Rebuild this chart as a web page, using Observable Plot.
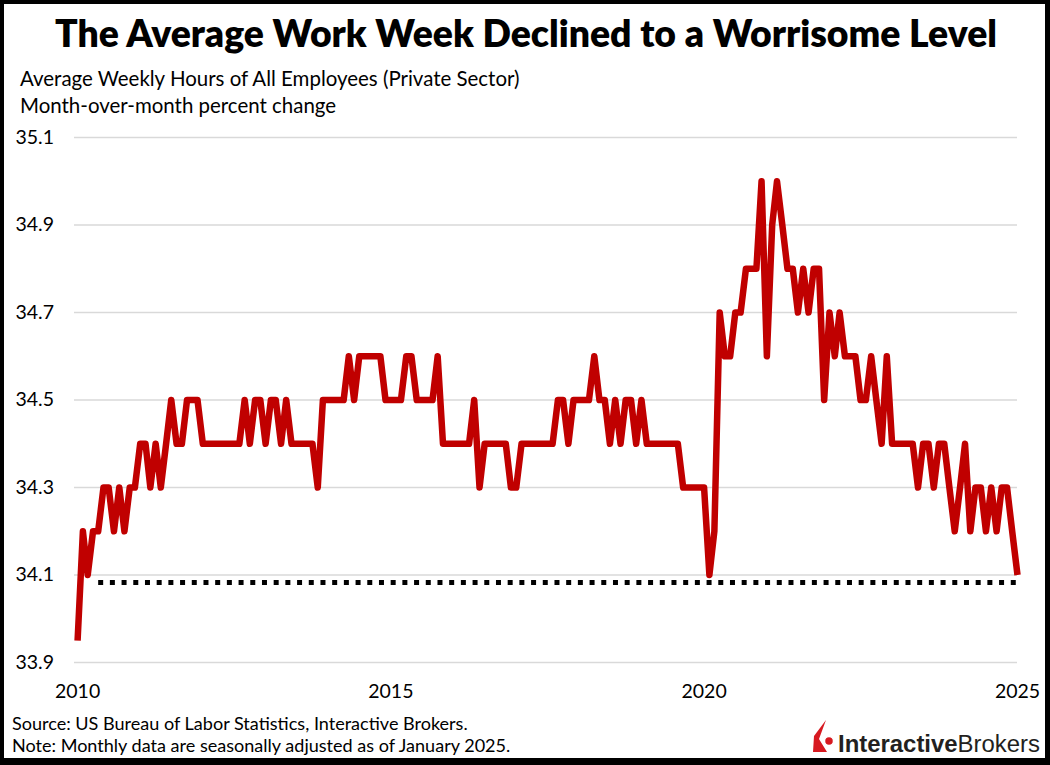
<!DOCTYPE html>
<html><head><meta charset="utf-8">
<script src="https://cdn.jsdelivr.net/npm/d3@7"></script>
<script src="https://cdn.jsdelivr.net/npm/@observablehq/plot@0.6"></script>
<style>
html,body{margin:0;padding:0;background:#fff;}
#frame{position:relative;width:1050px;height:765px;overflow:hidden;background:#fff;}
#border{position:absolute;left:0;top:0;width:1050px;height:765px;box-sizing:border-box;border:4px solid #000;border-right-width:5px;border-bottom-width:7px;pointer-events:none;z-index:5;}
#chart{position:absolute;left:0;top:120px;z-index:1;}
#overlay{position:absolute;left:0;top:0;z-index:3;pointer-events:none;}
</style></head>
<body>
<div id="frame">
  <div id="chart"></div>
  <svg id="overlay" width="1050" height="765" font-family="Lato, 'Open Sans', sans-serif">
    <text id="title" x="526" y="47" text-anchor="middle" font-weight="800" font-size="36" fill="#000">The Average Work Week Declined to a Worrisome Level</text>
    <text id="sub1" x="20" y="86" font-size="21" fill="#000">Average Weekly Hours of All Employees (Private Sector)</text>
    <text id="sub2" x="20" y="113" font-size="21" fill="#000">Month-over-month percent change</text>
    <text id="src" x="12" y="730" font-size="18" fill="#000">Source: US Bureau of Labor Statistics, Interactive Brokers.</text>
    <text id="note" x="12" y="752" font-size="18" fill="#000">Note: Monthly data are seasonally adjusted as of January 2025.</text>
    <g id="logo">
      <path d="M813,752 L814,736 L826,720 L819,739 L827,752 Z" fill="#d71920"/>
      <circle cx="829" cy="741" r="4.5" fill="#d71920" stroke="#fff" stroke-width="1.5"/>
      <text id="logoText" x="838" y="752" font-family="'Liberation Sans', Arial, sans-serif" font-size="24" fill="#231f20"><tspan font-weight="700">Interactive</tspan><tspan>Brokers</tspan></text>
    </g>
  </svg>
  <div id="border"></div>
</div>
<script>
// ---- data ----
const firstMonth = [2010, 0];           // January 2010
const hours = [
  // 2010
  33.95, 34.2, 34.1, 34.2, 34.2, 34.3, 34.3, 34.2, 34.3, 34.2, 34.3, 34.3,
  // 2011
  34.4, 34.4, 34.3, 34.4, 34.3, 34.4, 34.5, 34.4, 34.4, 34.5, 34.5, 34.5,
  // 2012
  34.4, 34.4, 34.4, 34.4, 34.4, 34.4, 34.4, 34.4, 34.5, 34.4, 34.5, 34.5,
  // 2013
  34.4, 34.5, 34.5, 34.4, 34.5, 34.4, 34.4, 34.4, 34.4, 34.4, 34.3, 34.5,
  // 2014
  34.5, 34.5, 34.5, 34.5, 34.6, 34.5, 34.6, 34.6, 34.6, 34.6, 34.6, 34.5,
  // 2015
  34.5, 34.5, 34.5, 34.6, 34.6, 34.5, 34.5, 34.5, 34.5, 34.6, 34.4, 34.4,
  // 2016
  34.4, 34.4, 34.4, 34.4, 34.5, 34.3, 34.4, 34.4, 34.4, 34.4, 34.4, 34.3,
  // 2017
  34.3, 34.4, 34.4, 34.4, 34.4, 34.4, 34.4, 34.4, 34.5, 34.5, 34.4, 34.5,
  // 2018
  34.5, 34.5, 34.5, 34.6, 34.5, 34.5, 34.4, 34.5, 34.4, 34.5, 34.5, 34.4,
  // 2019
  34.5, 34.4, 34.4, 34.4, 34.4, 34.4, 34.4, 34.4, 34.3, 34.3, 34.3, 34.3,
  // 2020
  34.3, 34.1, 34.2, 34.7, 34.6, 34.6, 34.7, 34.7, 34.8, 34.8, 34.8, 35.0,
  // 2021
  34.6, 34.9, 35.0, 34.9, 34.8, 34.8, 34.7, 34.8, 34.7, 34.8, 34.8, 34.5,
  // 2022
  34.7, 34.6, 34.7, 34.6, 34.6, 34.6, 34.5, 34.5, 34.6, 34.5, 34.4, 34.6,
  // 2023
  34.4, 34.4, 34.4, 34.4, 34.4, 34.3, 34.4, 34.4, 34.3, 34.4, 34.4, 34.3,
  // 2024
  34.2, 34.3, 34.4, 34.2, 34.3, 34.3, 34.2, 34.3, 34.2, 34.3, 34.3, 34.2,
  // 2025
  34.1
];
const yTicks = [33.9, 34.1, 34.3, 34.5, 34.7, 34.9, 35.1];
const xTickYears = [2010, 2015, 2020, 2025];
const referenceLevel = 34.083;          // dotted line value
const referenceStart = [2010, 4];       // dotted line starts May 2010

// ---- build table ----
const series = hours.map((v, i) => ({date: new Date(Date.UTC(firstMonth[0], firstMonth[1] + i, 1)), value: v}));
const xStart = new Date(Date.UTC(2009, 11, 14));
const xEnd = new Date(Date.UTC(2025, 0, 1));
const xTicks = xTickYears.map(y => new Date(Date.UTC(y, 0, 1)));
const refSeg = [
  {date: new Date(Date.UTC(referenceStart[0], referenceStart[1], 1)), value: referenceLevel},
  {date: xEnd, value: referenceLevel}
];

const chart = Plot.plot({
  width: 1050,
  height: 585,
  marginLeft: 74,
  marginRight: 33,
  marginTop: 17,
  marginBottom: 43,
  x: {type: "utc", domain: [xStart, xEnd]},
  y: {domain: [33.9, 35.1]},
  style: {fontFamily: "Lato, 'Open Sans', sans-serif", fontSize: "19.5px", color: "#000", background: "transparent", overflow: "visible"},
  marks: [
    Plot.gridY(yTicks, {stroke: "#d9d9d9", strokeOpacity: 1, strokeWidth: 1.3}),
    Plot.axisY(yTicks, {tickSize: 0, tickPadding: 59, textAnchor: "start", tickFormat: d3.format(".1f"), label: null, fill: "#000"}),
    Plot.axisX(xTicks, {tickSize: 0, tickPadding: 22, tickFormat: d3.utcFormat("%Y"), label: null, fill: "#000"}),
    Plot.line(refSeg, {x: "date", y: "value", stroke: "#000", strokeWidth: 5, strokeDasharray: "5,6.7", strokeLinecap: "butt"}),
    Plot.line(series, {x: "date", y: "value", stroke: "#c00000", strokeWidth: 6.5, strokeLinejoin: "round", strokeLinecap: "butt"})
  ]
});
document.getElementById("chart").appendChild(chart);

// fit text widths to the reference layout
function fit(id, target) {
  const el = document.getElementById(id);
  const fs = parseFloat(el.getAttribute("font-size"));
  const w = el.getComputedTextLength();
  const nfs = fs * target / w;
  el.setAttribute("font-size", nfs.toFixed(2));
  return nfs;
}
fit("title", 942);
const s = fit("sub1", 500);
document.getElementById("sub2").setAttribute("font-size", s.toFixed(2));
const f = fit("src", 456);
document.getElementById("note").setAttribute("font-size", f.toFixed(2));
fit("logoText", 202);
</script>
</body></html>
